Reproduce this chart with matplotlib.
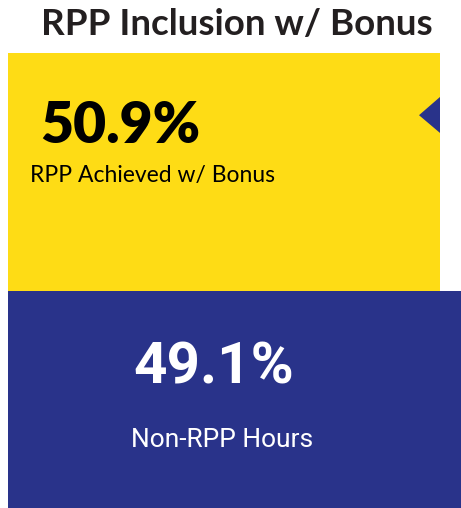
import numpy as np
import matplotlib
matplotlib.use("Agg")
import matplotlib.pyplot as plt
from matplotlib.patches import Polygon

# data
categories = ["RPP Achieved w/ Bonus", "Non-RPP Hours"]
values = [50.9, 49.1]
labels = ["50.9%", "49.1%"]
title = "RPP Inclusion w/ Bonus"

yellow = "#FEDC15"
navy = "#29338A"

W, H = 461, 508
fig = plt.figure(figsize=(W / 100, H / 100), dpi=100)
fig.patch.set_facecolor("white")

# axes in percent units, bottom runs past the figure edge
top_px, split_px = 53, 291
px_per_unit = (split_px - top_px) / values[0]
bottom_px = top_px + 100 * px_per_unit
ax = fig.add_axes([8 / W, 1 - bottom_px / H, 1 - 8 / W, (bottom_px - top_px) / H])
ax.set_xlim(0, 1)
ax.set_ylim(100, 0)
ax.set_facecolor(navy)
ax.set_axis_off()
ax.patch.set_visible(True)

yw = (440 - 8) / (W - 8)
ax.bar(0, values[0], bottom=0, width=yw, align="edge", color=yellow, lw=0)
ax.bar(0, values[1], bottom=values[0], width=1, align="edge", color=navy, lw=0)
ax.add_patch(Polygon([[yw, 9.4], [(419 - 8) / (W - 8), 13.3], [yw, 17.1]],
                     closed=True, color=navy, lw=0))

fig.text(236.5 / W, 1 - 35 / H, title, ha="center", va="baseline",
         fontsize=26.5, fontweight="bold", family="Lato", color="#231F20")

fig.text(40 / W, 1 - 143 / H, labels[0], ha="left", va="baseline",
         fontsize=41, fontweight="heavy", family="Lato", color="black")
fig.text(30 / W, 1 - 182 / H, categories[0], ha="left", va="baseline",
         fontsize=16.5, family="Lato", color="black")

fig.text(214 / W, 1 - 383 / H, labels[1], ha="center", va="baseline",
         fontsize=42, fontweight="bold", family="Roboto", color="white")
fig.text(222.5 / W, 1 - 447 / H, categories[1], ha="center", va="baseline",
         fontsize=19, fontweight="normal", family="Roboto", color="white")

fig.savefig("out.png", dpi=100)
